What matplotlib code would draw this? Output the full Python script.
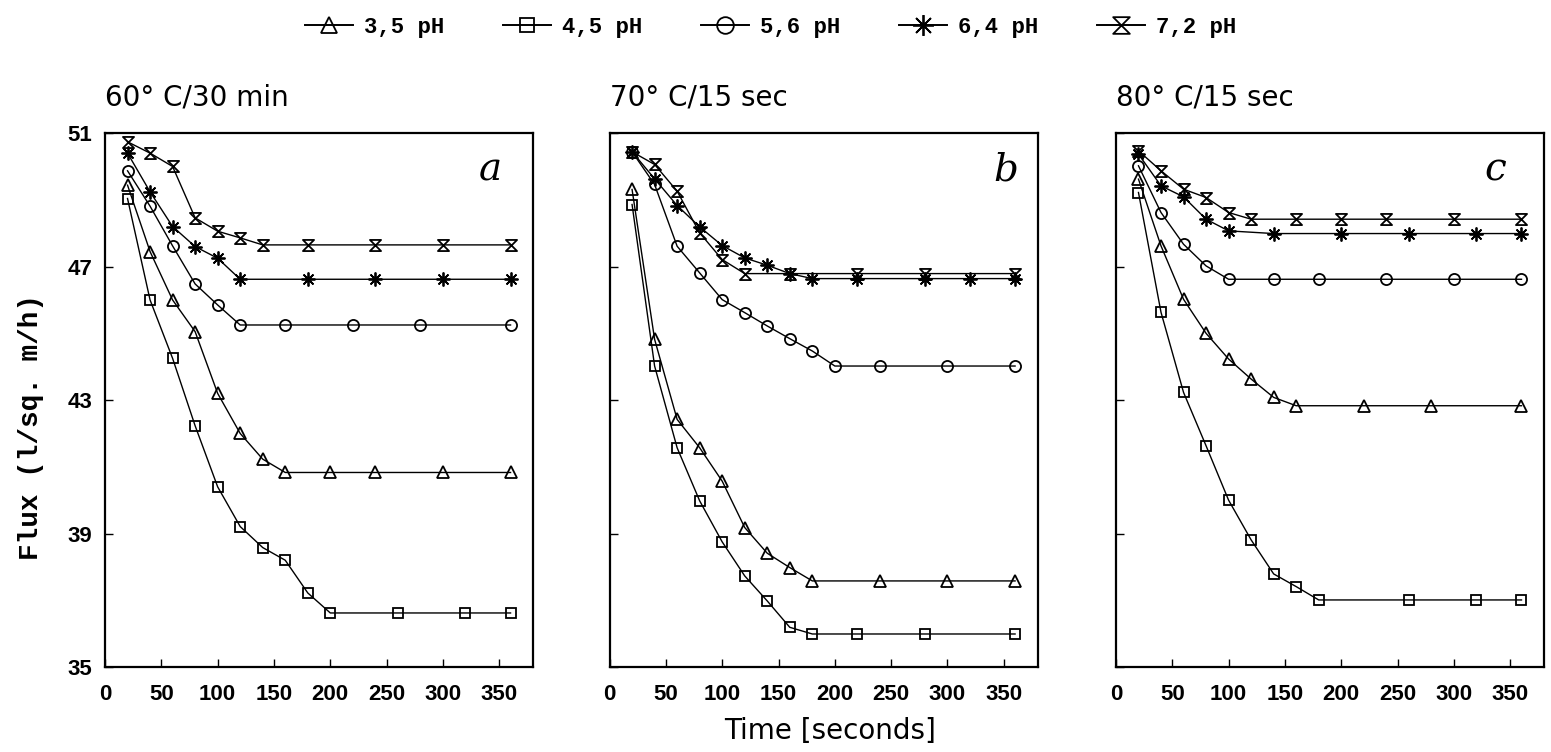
import matplotlib
matplotlib.use("Agg")
import matplotlib.pyplot as plt
from matplotlib.lines import Line2D
from matplotlib.path import Path

# sampling times (s) and flux (l/sq. m/h) per pH, panel a: 60 C / 30 min
a35_t = [20, 40, 60, 80, 100, 120, 140, 160, 200, 240, 300, 360]
a35_f = [49.44, 47.45, 46.0, 45.05, 43.2, 42.0, 41.23, 40.83, 40.83, 40.83, 40.83, 40.83]
a45_t = [20, 40, 60, 80, 100, 120, 140, 160, 180, 200, 260, 320, 360]
a45_f = [49.04, 46.0, 44.25, 42.23, 40.4, 39.21, 38.58, 38.2, 37.22, 36.62, 36.62, 36.62, 36.62]
a56_t = [20, 40, 60, 80, 100, 120, 160, 220, 280, 360]
a56_f = [49.87, 48.81, 47.62, 46.48, 45.85, 45.25, 45.25, 45.25, 45.25, 45.25]
a64_t = [20, 40, 60, 80, 100, 120, 180, 240, 300, 360]
a64_f = [50.4, 49.24, 48.2, 47.6, 47.25, 46.62, 46.62, 46.62, 46.62, 46.62]
a72_t = [20, 40, 60, 80, 100, 120, 140, 180, 240, 300, 360]
a72_f = [50.74, 50.4, 50.0, 48.46, 48.06, 47.86, 47.65, 47.65, 47.65, 47.65, 47.65]

# panel b: 70 C / 15 sec
b35_t = [20, 40, 60, 80, 100, 120, 140, 160, 180, 240, 300, 360]
b35_f = [49.31, 44.82, 42.42, 41.57, 40.57, 39.18, 38.41, 37.98, 37.58, 37.58, 37.58, 37.58]
b45_t = [20, 40, 60, 80, 100, 120, 140, 160, 180, 220, 280, 360]
b45_f = [48.86, 44.02, 41.57, 39.98, 38.75, 37.73, 36.98, 36.19, 35.99, 35.99, 35.99, 35.99]
b56_t = [20, 40, 60, 80, 100, 120, 140, 160, 180, 200, 240, 300, 360]
b56_f = [50.44, 49.46, 47.61, 46.81, 46.01, 45.62, 45.22, 44.84, 44.47, 44.02, 44.02, 44.02, 44.02]
b64_t = [20, 40, 60, 80, 100, 120, 140, 160, 180, 220, 280, 320, 360]
b64_f = [50.44, 49.63, 48.83, 48.19, 47.63, 47.26, 47.04, 46.79, 46.64, 46.64, 46.64, 46.64, 46.64]
b72_t = [20, 40, 60, 80, 100, 120, 160, 220, 280, 360]
b72_f = [50.44, 50.06, 49.26, 48.01, 47.21, 46.79, 46.79, 46.79, 46.79, 46.79]

# panel c: 80 C / 15 sec
c35_t = [20, 40, 60, 80, 100, 120, 140, 160, 220, 280, 360]
c35_f = [49.62, 47.62, 46.02, 45.0, 44.23, 43.63, 43.08, 42.83, 42.83, 42.83, 42.83]
c45_t = [20, 40, 60, 80, 100, 120, 140, 160, 180, 260, 320, 360]
c45_f = [49.22, 45.63, 43.23, 41.63, 40.0, 38.81, 37.79, 37.41, 37.01, 37.01, 37.01, 37.01]
c56_t = [20, 40, 60, 80, 100, 140, 180, 240, 300, 360]
c56_f = [50.02, 48.62, 47.67, 47.02, 46.62, 46.62, 46.62, 46.62, 46.62, 46.62]
c64_t = [20, 40, 60, 80, 100, 140, 200, 260, 320, 360]
c64_f = [50.37, 49.42, 49.09, 48.42, 48.07, 47.99, 47.99, 47.99, 47.99, 47.99]
c72_t = [20, 40, 60, 80, 100, 120, 160, 200, 240, 300, 360]
c72_f = [50.47, 49.87, 49.32, 49.07, 48.62, 48.42, 48.42, 48.42, 48.42, 48.42, 48.42]

ph_labels = ["3,5 pH", "4,5 pH", "5,6 pH", "6,4 pH", "7,2 pH"]
panel_titles = ["60° C/30 min", "70° C/15 sec", "80° C/15 sec"]
panel_letters = ["a", "b", "c"]
x_ticks = [0, 50, 100, 150, 200, 250, 300, 350]
y_ticks = [35, 39, 43, 47, 51]

panels = [
    [(a35_t, a35_f), (a45_t, a45_f), (a56_t, a56_f), (a64_t, a64_f), (a72_t, a72_f)],
    [(b35_t, b35_f), (b45_t, b45_f), (b56_t, b56_f), (b64_t, b64_f), (b72_t, b72_f)],
    [(c35_t, c35_f), (c45_t, c45_f), (c56_t, c56_f), (c64_t, c64_f), (c72_t, c72_f)],
]

# hourglass marker: top bar, diagonal, bottom bar, diagonal back
hourglass = Path([(-1, 1), (1, 1), (-1, -1), (1, -1), (-1, 1)],
                 [Path.MOVETO, Path.LINETO, Path.LINETO, Path.LINETO, Path.CLOSEPOLY])
markers = ["^", "s", "o", (8, 2, 0), hourglass]
msizes = [8, 7, 8, 10, 8]

fig = plt.figure(figsize=(15.51, 7.52), dpi=100)

lefts = [0.0677, 0.393, 0.7195]
letter_x = [0.90, 0.926, 0.885]
for i, series in enumerate(panels):
    ax = fig.add_axes([lefts[i], 0.113, 0.276, 0.710])
    for (t, f), m, ms in zip(series, markers, msizes):
        ax.plot(t, f, color="black", lw=1.0, marker=m, markersize=ms,
                mfc="none", mec="black", mew=1.3)
    ax.set_xlim(0, 380)
    ax.set_ylim(35, 51)
    ax.set_xticks(x_ticks)
    ax.set_yticks(y_ticks)
    ax.tick_params(direction="in", length=6, width=1)
    ax.tick_params(axis="x", pad=12)
    ax.tick_params(axis="y", pad=9)
    for lab in ax.get_xticklabels() + ax.get_yticklabels():
        lab.set_fontfamily("Liberation Sans")
        lab.set_fontweight("bold")
        lab.set_fontsize(16)
    if i > 0:
        ax.set_yticklabels([])
    for sp in ax.spines.values():
        sp.set_linewidth(1.6)
    ax.set_title(panel_titles[i], loc="left", pad=20, fontsize=20,
                 fontfamily="DejaVu Sans")
    ax.text(letter_x[i], 0.93, panel_letters[i], transform=ax.transAxes,
            ha="center", va="center", fontsize=28, style="italic",
            fontfamily="DejaVu Serif")
    if i == 0:
        ax.set_ylabel("Flux (l/sq. m/h)", fontsize=20, fontweight="bold",
                      fontfamily="Liberation Mono")
        ax.yaxis.set_label_coords(-0.142, 0.45)

fig.text(0.535, 0.028, "Time [seconds]", ha="center", va="center",
         fontsize=20, fontfamily="DejaVu Sans")

handles = [Line2D([], [], color="black", lw=1.4, marker=m, markersize=ms * 1.5,
                  mfc="none", mec="black", mew=1.3)
           for m, ms in zip(markers, msizes)]
fig.legend(handles, ph_labels, loc="center", bbox_to_anchor=(0.497, 0.964),
           ncol=5, frameon=False, handlelength=2.15, handletextpad=0.5,
           columnspacing=2.65,
           prop={"family": "Liberation Mono", "weight": "bold", "size": 16})

fig.savefig("out.png", dpi=100)
